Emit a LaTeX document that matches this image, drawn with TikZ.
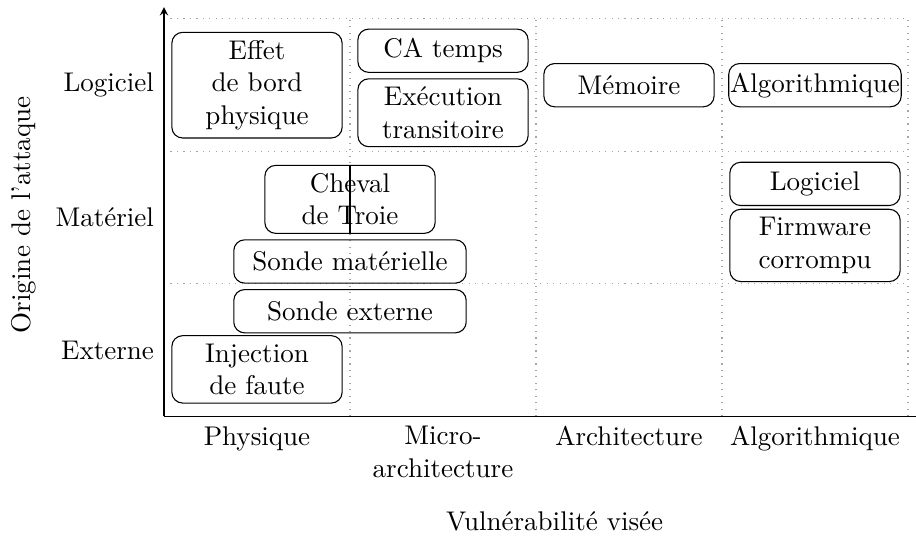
\documentclass[tikz,border=0pt]{standalone}
\usepackage{fontspec}
\usepackage{tikz}
\usetikzlibrary{positioning, arrows.meta}
\tikzstyle{attack} = [draw, rounded corners=4pt, align=center, minimum width=63pt, minimum height=16pt, inner xsep=0.5pt, inner ysep=3pt]
\tikzstyle{probe} = [attack, minimum width=86pt]
\tikzstyle{axis} = [thin, black, ->, >=stealth]
\tikzset{
  gridline/.style={gray!70, dotted},
  rowlabel/.style={left, inner sep=3.5pt},
  collabel/.style={below, align=center, inner sep=3.5pt}
}

\begin{document}
\begin{tikzpicture}[x=2.419cm, y=1.723cm]
  \useasboundingbox (-0.8817,-0.902) rectangle (4.043,3.143);

  % Grid
  \foreach \c in {1,...,4}
    \draw[gridline] (\c,0) -- (\c,3);
  \foreach \r in {1,...,3}
    \draw[gridline] (0,\r) -- (4,\r);

  % Axes
  \coordinate (origin) at (0,0);
  \coordinate (ytop) at (0,3.09);
  \coordinate (xend) at (4.043,0);
  \draw[axis] (origin) -- (ytop);
  \draw[thin] (origin) -- (xend);

  % Row and column labels
  \node[rowlabel] (logiciel) at (0,2.5) {Logiciel};
  \node[rowlabel] (materiel) at (0,1.5) {Matériel};
  \node[rowlabel] (externe) at (0,0.5) {Externe};
  \node[collabel] (physique) at (0.5,0) {Physique};
  \node[collabel] (micro) at (1.5,0) {Micro-\\architecture};
  \node[collabel] (archi) at (2.5,0) {Architecture};
  \node[collabel] (algo) at (3.5,0) {Algorithmique};
  \node[rotate=90] (ylabel) at (-0.753,1.521) {Origine de l'attaque};
  \node (xlabel) at (2.1,-0.796) {Vulnérabilité visée};

  % Attacks
  \node[attack] (effet) at (0.5,2.5) {Effet\\de bord\\physique};
  \node[attack] (catemps) at (1.5,2.76) {CA temps};
  \node[attack, below=2pt of catemps] (execution) {Exécution\\transitoire};
  \node[attack] (memoire) at (2.5,2.5) {Mémoire};
  \node[attack] (algorithmique) at (3.5,2.5) {Algorithmique};
  \node[attack] (logicielhw) at (3.5,1.755) {Logiciel};
  \node[attack, below=1pt of logicielhw] (firmware) {Firmware\\corrompu};
  \node[attack] (cheval) at (1.0,1.638) {Cheval\\de Troie};
  \node[probe, below=2pt of cheval] (sondemat) {Sonde matérielle};
  \node[probe, below=2pt of sondemat] (sondeext) {Sonde externe};
  \node[attack] (injection) at (0.5,0.355) {Injection\\de faute};
  \draw[thin] (cheval.north) -- (cheval.south);
\end{tikzpicture}
\end{document}
